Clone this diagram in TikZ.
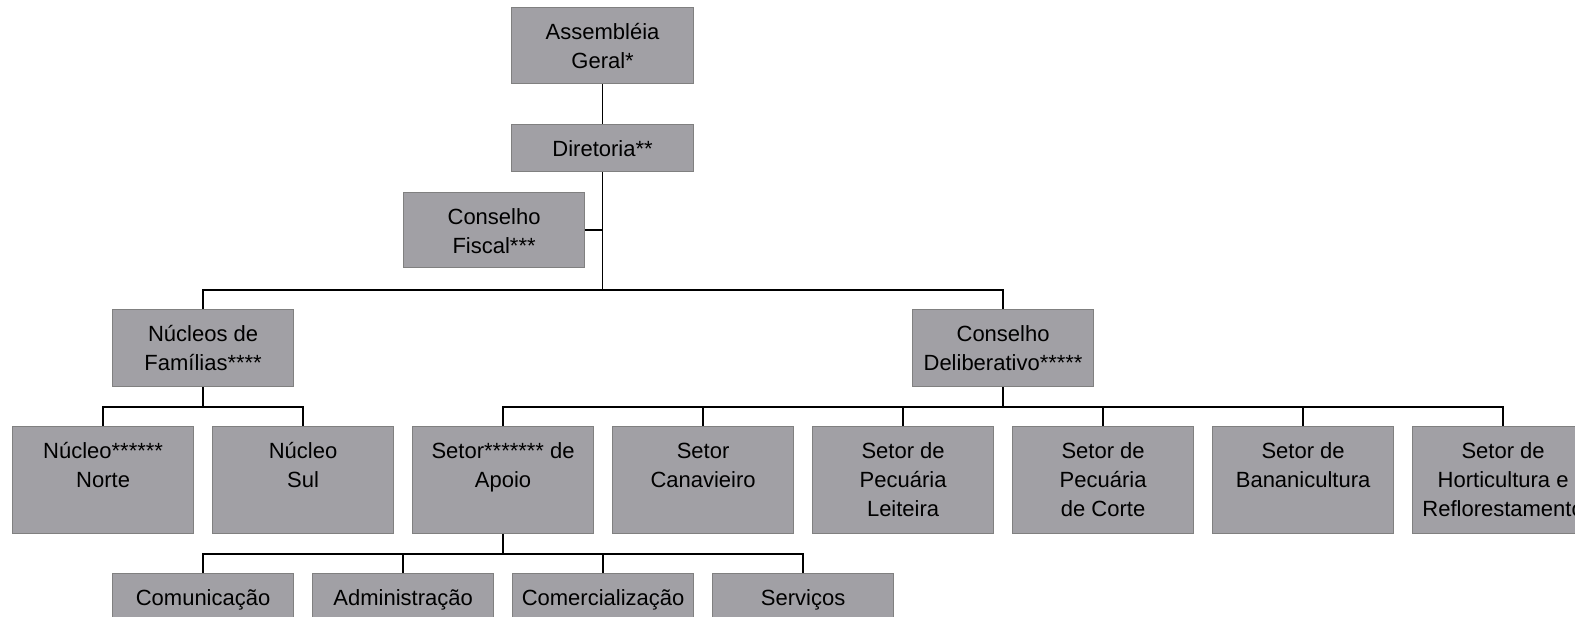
\documentclass[tikz,border=0pt]{standalone}
\usepackage{fontspec}
\setmainfont{Liberation Sans}
\definecolor{boxfill}{RGB}{161,160,165}
\definecolor{boxline}{RGB}{128,128,128}
\begin{document}
\begin{tikzpicture}[
  x=1pt, y=-1pt,
  box/.style={draw=boxline, fill=boxfill, line width=1.2pt, minimum width=181pt, inner sep=0pt, anchor=north west},
  lbl/.style={anchor=north, align=center, inner sep=0pt, font=\fontsize{22}{29}\selectfont, yshift=-11.7pt},
  conn/.style={draw=black, line width=1.6pt}
]
\useasboundingbox (0,0) rectangle (1575,617);
\clip (0,0) rectangle (1575,617);

% level 0-1
\node[box, minimum width=182pt, minimum height=76pt] (ag) at (511,7) {};
\node[lbl] (ag-t) at (ag.north) {\strut Assembléia\\Geral*};
\node[box, minimum width=182pt, minimum height=47pt] (dir) at (511,124) {};
\node[lbl] (dir-t) at (dir.north) {\strut Diretoria**};
\node[box, minimum height=75pt] (fis) at (403,192) {};
\node[lbl] (fis-t) at (fis.north) {\strut Conselho\\Fiscal***};

% level 2
\node[box, minimum height=77pt] (nuc) at (112,309) {};
\node[lbl] (nuc-t) at (nuc.north) {\strut Núcleos de\\Famílias****};
\node[box, minimum height=77pt] (del) at (912,309) {};
\node[lbl] (del-t) at (del.north) {\strut Conselho\\Deliberativo*****};

% level 3
\node[box, minimum height=107pt] (nn) at (12,426) {};
\node[lbl] (nn-t) at (nn.north) {\strut Núcleo******\\Norte};
\node[box, minimum height=107pt] (ns) at (212,426) {};
\node[lbl] (ns-t) at (ns.north) {\strut Núcleo\\Sul};
\node[box, minimum height=107pt] (sa) at (412,426) {};
\node[lbl] (sa-t) at (sa.north) {\strut Setor******* de\\Apoio};
\node[box, minimum height=107pt] (sc) at (612,426) {};
\node[lbl] (sc-t) at (sc.north) {\strut Setor\\Canavieiro};
\node[box, minimum height=107pt] (spl) at (812,426) {};
\node[lbl] (spl-t) at (spl.north) {\strut Setor de\\Pecuária\\Leiteira};
\node[box, minimum height=107pt] (spc) at (1012,426) {};
\node[lbl] (spc-t) at (spc.north) {\strut Setor de\\Pecuária\\de Corte};
\node[box, minimum height=107pt] (sb) at (1212,426) {};
\node[lbl] (sb-t) at (sb.north) {\strut Setor de\\Bananicultura};
\node[box, minimum height=107pt] (sh) at (1412,426) {};
\node[lbl] (sh-t) at (sh.north) {\strut Setor de\\Horticultura e\\Reflorestamento};

% level 4
\node[box, minimum height=77pt] (com) at (112,573) {};
\node[lbl] (com-t) at (com.north) {\strut Comunicação};
\node[box, minimum height=77pt] (adm) at (312,573) {};
\node[lbl] (adm-t) at (adm.north) {\strut Administração};
\node[box, minimum height=77pt] (cml) at (512,573) {};
\node[lbl] (cml-t) at (cml.north) {\strut Comercialização};
\node[box, minimum height=77pt] (ser) at (712,573) {};
\node[lbl] (ser-t) at (ser.north) {\strut Serviços};

% connectors
\draw[conn] (ag.south) -- (dir.north);
\draw[conn] (dir.south) -- ++(0,118) -| (nuc.north);
\draw[conn] (dir.south) -- ++(0,118) -| (del.north);
\draw[conn] (fis.east) -- (fis.east -| dir.south);
\foreach \c in {nn,ns} \draw[conn] (nuc.south) -- ++(0,20) -| (\c.north);
\foreach \c in {sa,sc,spl,spc,sb,sh} \draw[conn] (del.south) -- ++(0,20) -| (\c.north);
\foreach \c in {com,adm,cml,ser} \draw[conn] (sa.south) -- ++(0,20) -| (\c.north);
\end{tikzpicture}
\end{document}
